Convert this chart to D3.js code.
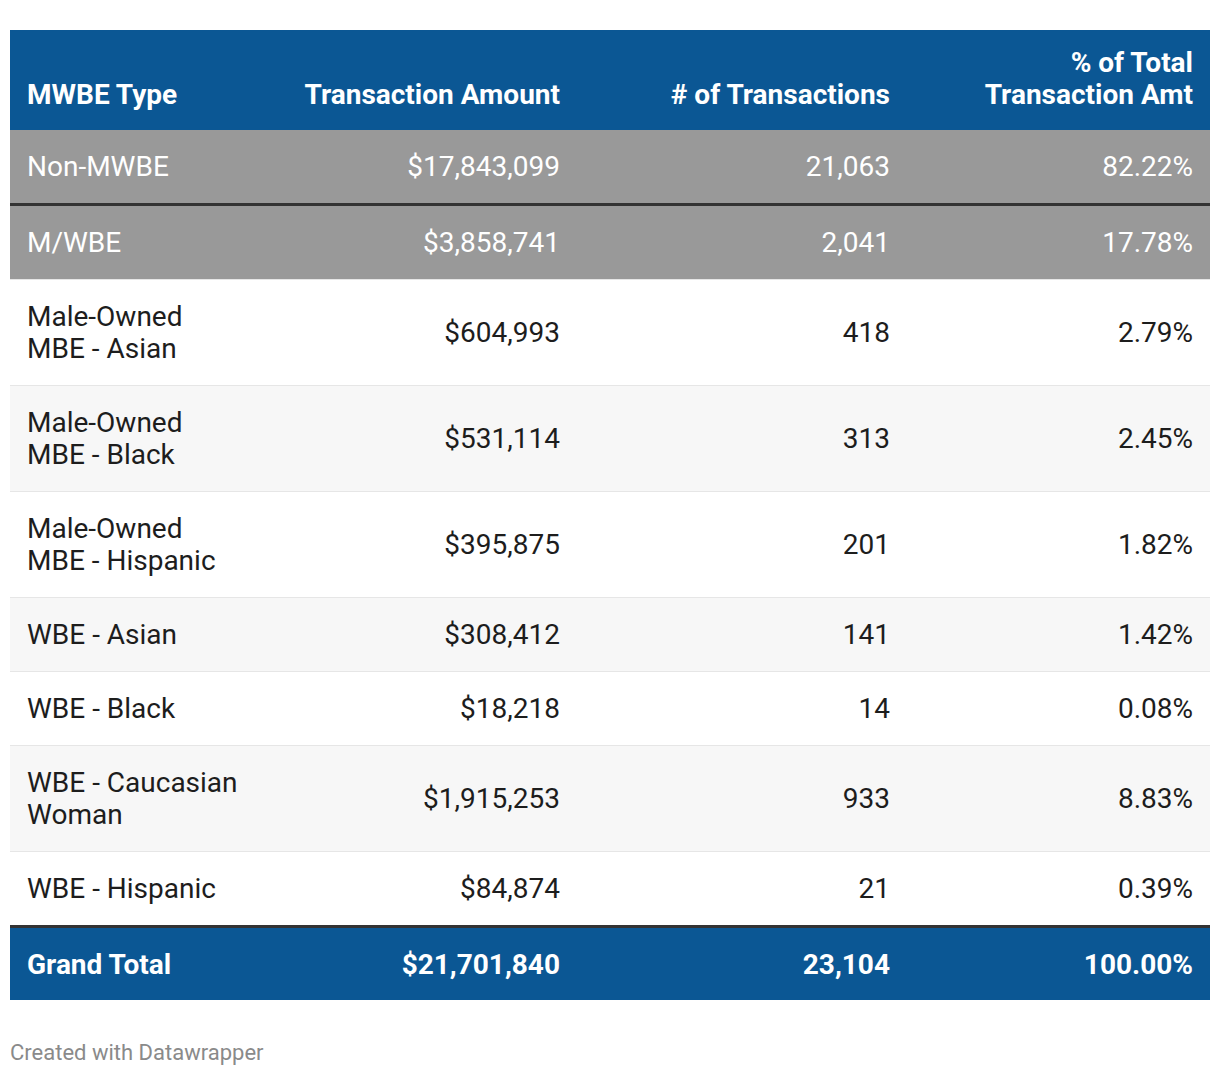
<!DOCTYPE html>
<html><head><meta charset="utf-8">
<script src="https://cdn.jsdelivr.net/npm/d3@7"></script>
<style>
html,body{margin:0;padding:0;background:#fff;}
svg text{font-family:Roboto,"Noto Sans",sans-serif;}
</style></head>
<body>
<svg id="chart" width="1220" height="1076"></svg>
<script>
const headers = ["MWBE Type", "Transaction Amount", "# of Transactions", "% of Total\nTransaction Amt"];
const types = ["Non-MWBE", "M/WBE", "Male-Owned\nMBE - Asian", "Male-Owned\nMBE - Black", "Male-Owned\nMBE - Hispanic", "WBE - Asian", "WBE - Black", "WBE - Caucasian\nWoman", "WBE - Hispanic"];
const amounts = [17843099, 3858741, 604993, 531114, 395875, 308412, 18218, 1915253, 84874];
const counts = [21063, 2041, 418, 313, 201, 141, 14, 933, 21];
const pcts = [82.22, 17.78, 2.79, 2.45, 1.82, 1.42, 0.08, 8.83, 0.39];
const totalLabel = "Grand Total";
const totalAmount = 21701840;
const totalCount = 23104;
const totalPct = 100.00;
const emphasized = ["Non-MWBE", "M/WBE"];

const svg = d3.select("#chart");
const fmtAmt = d3.format("$,");
const fmtCnt = d3.format(",");
const fmtPct = v => d3.format(".2f")(v) + "%";

const left = 10, right = 1210;
const colX = d3.scaleOrdinal().domain([0,1,2,3]).range([27, 560, 890, 1193]);
const colAnchor = d3.scaleOrdinal().domain([0,1,2,3]).range(["start","end","end","end"]);
const lineH = 32;
const fontSize = 28;

const blue = "#0b5794", gray = "#999999", dark = "#333333";

// header
const headTop = 30, headBot = 130;
svg.append("rect").attr("x", left).attr("y", headTop).attr("width", right-left).attr("height", headBot-headTop).attr("fill", blue);
headers.forEach((h, i) => {
  const lines = h.split("\n");
  const t = svg.append("text").attr("x", colX(i)).attr("text-anchor", colAnchor(i))
    .attr("fill", "#fff").attr("font-weight", 700).attr("font-size", fontSize);
  lines.forEach((l, k) => {
    t.append("tspan").attr("x", colX(i)).attr("y", 94 - (lines.length-1-k)*lineH).attr("dy", "0.35em").text(l);
  });
});

// rows
const rows = types.map((t, i) => ({type: t, amt: amounts[i], cnt: counts[i], pct: pcts[i]}));
let y = headBot;
rows.forEach((r, i) => {
  const lines = r.type.split("\n");
  const emph = emphasized.includes(r.type);
  const h = 73 + (lines.length-1)*lineH;
  let bg;
  if (emph) bg = gray;
  else bg = ((i - 2) % 2 === 0) ? "#ffffff" : "#f7f7f7";
  svg.append("rect").attr("x", left).attr("y", y).attr("width", right-left).attr("height", h).attr("fill", bg);
  const cy = y + h/2;
  const color = emph ? "#ffffff" : "#1d1d1d";
  const vals = [lines, [fmtAmt(r.amt)], [fmtCnt(r.cnt)], [fmtPct(r.pct)]];
  vals.forEach((v, c) => {
    const t = svg.append("text").attr("x", colX(c)).attr("text-anchor", colAnchor(c))
      .attr("fill", color).attr("font-size", fontSize);
    v.forEach((l, k) => {
      t.append("tspan").attr("x", colX(c)).attr("y", cy + (k - (v.length-1)/2)*lineH).attr("dy", "0.35em").text(l);
    });
  });
  y += h;
  let bw, bc;
  if (i === 0 || i === rows.length - 1) { bw = 3; bc = dark; }
  else { bw = 1; bc = "#e6e6e6"; }
  svg.append("rect").attr("x", left).attr("y", y).attr("width", right-left).attr("height", bw).attr("fill", bc);
  y += bw;
});

// total row
const th = 72;
svg.append("rect").attr("x", left).attr("y", y).attr("width", right-left).attr("height", th).attr("fill", blue);
[totalLabel, fmtAmt(totalAmount), fmtCnt(totalCount), fmtPct(totalPct)].forEach((v, c) => {
  svg.append("text").attr("x", colX(c)).attr("y", y + th/2).attr("dy", "0.35em")
    .attr("text-anchor", colAnchor(c)).attr("fill", "#fff").attr("font-weight", 700)
    .attr("font-size", fontSize).text(v);
});

svg.append("text").attr("x", 10).attr("y", 1052).attr("dy", "0.35em")
  .attr("fill", "#8a8a8a").attr("font-size", 22).text("Created with Datawrapper");
</script>
</body></html>
